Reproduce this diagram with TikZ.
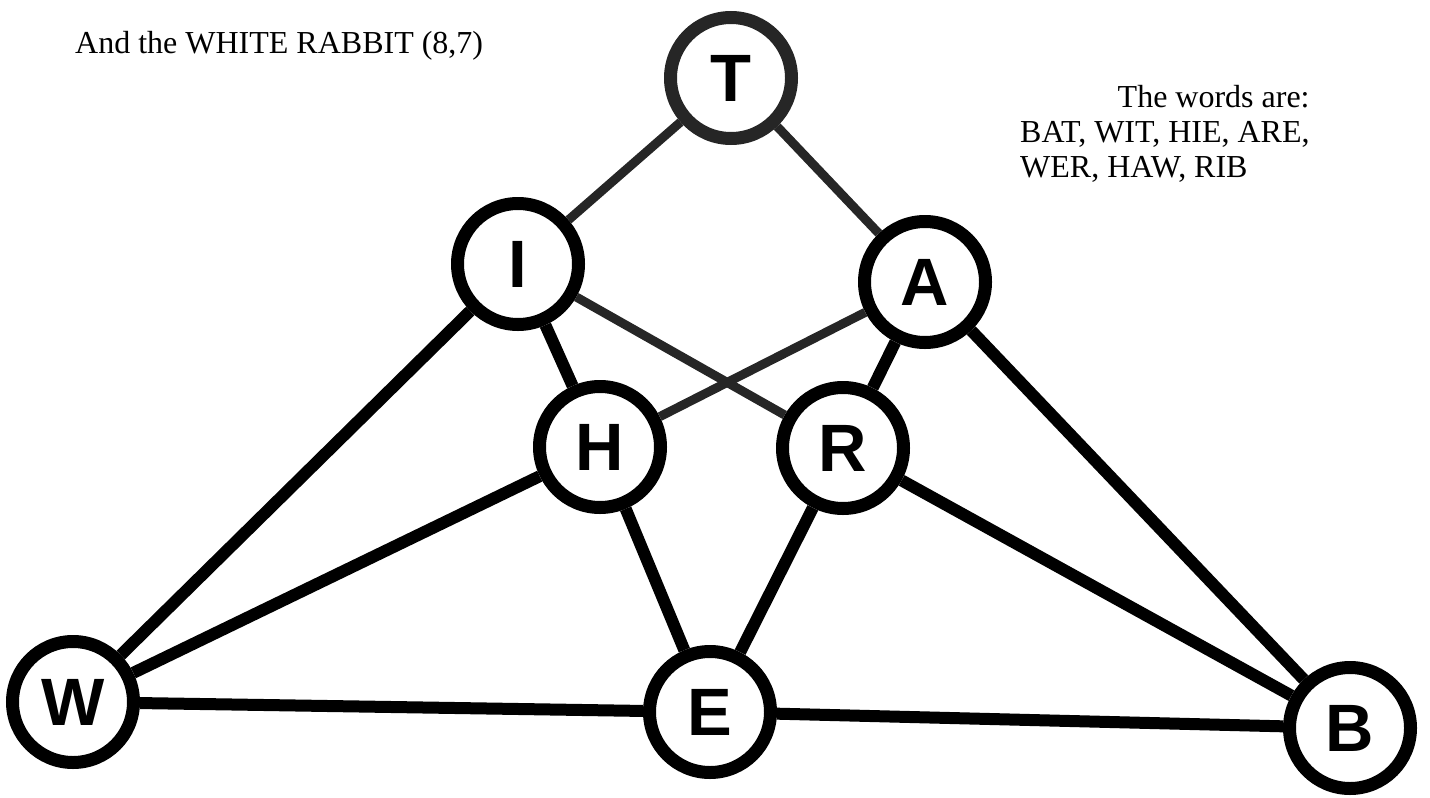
\documentclass[tikz,border=0pt]{standalone}
\usepackage{fontspec}
\setmainfont{Liberation Serif}
\newfontfamily\letterfont{Liberation Sans}
\usetikzlibrary{positioning}
\tikzset{
	vertex/.style={circle, draw, fill=white, line width=13pt, minimum size=121pt, inner sep=0pt,
		font=\letterfont\bfseries\fontsize{67pt}{67pt}\selectfont}, % the letter circles
	link/.style={line width=9pt, draw=black!85}, % lighter edges at the top
	thick link/.style={line width=12pt}, % heavier edges
	caption/.style={anchor=base west, inner sep=0pt, font=\fontsize{32pt}{35pt}\selectfont},
}

\begin{document}
\begin{tikzpicture}[on grid]
	\useasboundingbox (0,0) rectangle (1430pt,-798pt);

	% Letters
	\node[vertex, draw=black!85] (T) at (731pt,-78pt) {T};
	\node[vertex, below left=186pt and 213pt of T] (I) {I};
	\node[vertex, below right=204pt and 194pt of T] (A) {A};
	\node[vertex, below right=183pt and 82pt of I] (H) {H};
	\node[vertex, below left=166pt and 82pt of A] (R) {R};
	\node[vertex, below right=265pt and 110pt of H] (E) {E};
	\node[vertex, above left=10pt and 637pt of E] (W) {W};
	\node[vertex, below right=16pt and 640pt of E] (B) {B};

	% Edges
	\path
	(T) edge[link] (I)
	(T) edge[link] (A)
	(I) edge[link] (R)
	(A) edge[link] (H)
	(I) edge[thick link] (H)
	(A) edge[thick link] (R)
	(I) edge[thick link] (W)
	(A) edge[thick link] (B)
	(H) edge[thick link] (W)
	(H) edge[thick link] (E)
	(R) edge[thick link] (E)
	(R) edge[thick link] (B)
	(W) edge[thick link] (E)
	(E) edge[thick link] (B);

	% Texts
	\node[caption] (title) at (75pt,-53pt) {And the WHITE RABBIT (8,7)};
	\node[caption] (words) at (1020pt,-107pt) {\begin{tabular}[t]{@{}l@{}}
		\multicolumn{1}{@{}r@{}}{The words are:}\\
		BAT, WIT, HIE, ARE,\\
		WER, HAW, RIB
	\end{tabular}};
\end{tikzpicture}
\end{document}
